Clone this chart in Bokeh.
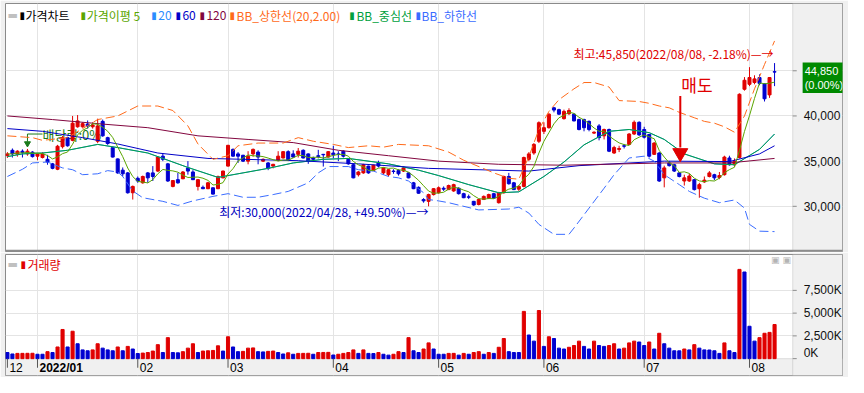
import pandas as pd
from bokeh.plotting import figure
from bokeh.models import ColumnDataSource, FixedTicker, Range1d, Label, BoxAnnotation
from bokeh.layouts import column
from bokeh.embed import file_html
from bokeh.resources import INLINE

# ---------------- data ----------------
month_idx = [0, 6, 26, 44, 65, 86, 107, 127, 148]
month_lbl = ["12", "2022/01", "02", "03", "04", "05", "06", "07", "08"]

price_ticks = [30000, 35000, 40000, 45000]
price_tick_lbl = ["30,000", "35,000", "40,000", ""]
vol_ticks = [0, 2500, 5000, 7500]
vol_tick_lbl = ["0K", "2,500K", "5,000K", "7,500K"]

opens = [35600, 36200, 35750, 36100, 35800, 36000, 35550, 35400, 35200, 34700, 34100, 36600, 37600, 37300, 38800, 38800, 39100, 38800, 37200, 39400,
         37600, 36500, 35250, 34000, 33700, 31500, 33100, 32600, 33700, 33700, 33900, 35550, 34700, 32200, 32950, 33050, 34250, 33800, 32200, 32100,
         31950, 32050, 31950, 33150, 34450, 36300, 35800, 35650, 35000, 35800, 36000, 35000, 34800, 34450, 35100, 35350, 36050, 35800, 35750, 36200,
         35800, 35350, 35600, 35750, 35450, 35900, 35800, 36100, 35200, 34600, 33500, 33700, 34450, 33950, 34800, 33700, 33500, 33900, 33950, 33900,
         33700, 32600, 32100, 30750, 30550, 31300, 31500, 32000, 31850, 31700, 32000, 31400, 31050, 30550, 30200, 30750, 30900, 31400, 30400, 31500,
         33300, 32600, 31900, 32200, 35200, 35900, 37200, 38300, 38700, 40900, 40700, 39700, 40250, 40200, 39600, 39600, 39400, 38100, 38900, 37800,
         38500, 35900, 36300, 36700, 36850, 38000, 39300, 38500, 37950, 35750, 35900, 33150, 34800, 34600, 33700, 32800, 32800, 32950, 31950, 32700,
         33300, 33500, 33200, 33500, 35350, 34600, 35400, 42950, 43500, 43700, 44250, 43550, 42330, 44900]
highs = [36000, 36400, 36200, 36300, 36350, 36100, 35900, 36000, 35700, 34800, 36800, 37800, 37700, 40000, 40100, 39300, 39500, 39300, 39700, 39600,
         37700, 36600, 35300, 34300, 33800, 32300, 33300, 33400, 33800, 34450, 35500, 35900, 34800, 32900, 33700, 33900, 35000, 34000, 33000, 32300,
         32700, 32100, 33400, 33950, 36800, 36400, 36000, 35700, 36100, 36400, 36200, 35300, 34900, 34700, 36100, 36100, 36200, 36200, 36450, 36300,
         35850, 35500, 36250, 35800, 36100, 36700, 36100, 36200, 35300, 34700, 33900, 34700, 34500, 34600, 35050, 34300, 34100, 34100, 34100, 34400,
         33750, 32700, 32200, 30900, 31400, 32000, 32200, 32200, 32400, 32500, 32100, 31500, 31300, 30600, 30800, 31200, 31400, 31500, 31600, 33400,
         33700, 32700, 32300, 35500, 36000, 37000, 39400, 39300, 40300, 41000, 40800, 40700, 40850, 40300, 39700, 39700, 39500, 38300, 39100, 38600,
         38600, 36700, 36700, 36900, 38100, 39500, 39400, 38800, 38000, 37100, 36000, 34500, 35000, 34700, 33800, 33500, 33600, 33000, 32600, 33300,
         33900, 33600, 33800, 35600, 35600, 35300, 42500, 44300, 45400, 44500, 44600, 43600, 44300, 45850]
lows = [35350, 35400, 35500, 35400, 35600, 35400, 35100, 35300, 34600, 34100, 34000, 36400, 36600, 37200, 38700, 38700, 38600, 38600, 37000, 37700,
        36800, 35400, 33600, 33300, 31400, 30750, 32600, 32500, 32600, 32800, 33800, 35000, 32700, 32100, 32500, 33000, 33500, 32900, 31750, 31900,
        31900, 31300, 31900, 33100, 34400, 35500, 34800, 34900, 34650, 35500, 34650, 34900, 34000, 34200, 35000, 35300, 35000, 35400, 35400, 35300,
        34700, 35100, 35300, 34400, 35400, 35300, 35000, 35400, 34600, 33100, 33300, 33600, 33600, 33900, 34300, 33500, 33300, 33600, 33400, 33800,
        33100, 31900, 31400, 30400, 30000, 31200, 31400, 31700, 31800, 31600, 31300, 30900, 30800, 30050, 30100, 30700, 30800, 30850, 30300, 31400,
        32400, 31800, 31700, 32100, 35000, 35700, 37000, 38000, 38600, 40400, 40100, 39600, 40100, 39400, 38400, 38300, 38300, 38000, 37300, 37400,
        36000, 35800, 36000, 36400, 36800, 37900, 37800, 37500, 35400, 35700, 32700, 32100, 34400, 33800, 33200, 32300, 32700, 31750, 30950, 32600,
        33200, 32900, 33000, 33400, 34500, 34400, 35300, 42800, 43300, 43500, 43400, 41600, 42000, 43300]
closes = [35800, 35800, 36100, 35950, 36100, 35500, 35800, 35800, 34900, 34200, 36650, 37600, 36700, 39200, 39450, 39150, 38900, 39000, 38900, 37800,
          36950, 35450, 33700, 33600, 31500, 32200, 32800, 33300, 33150, 33300, 35450, 35200, 32800, 32850, 32600, 33800, 33900, 32950, 32950, 31950,
          32600, 31350, 33300, 33900, 36750, 35550, 35550, 35000, 35550, 36300, 35450, 35200, 34200, 34650, 35550, 36050, 35100, 35450, 36100, 35350,
          35000, 35200, 35500, 35700, 36050, 35700, 35750, 35550, 34700, 33150, 33800, 34600, 33700, 34550, 34450, 34250, 34050, 33850, 33600, 34250,
          33150, 31950, 31450, 30600, 31300, 31950, 32050, 31900, 32300, 32400, 31400, 30950, 31000, 30150, 30750, 31100, 31300, 30900, 31500, 33300,
          32500, 31850, 32200, 35400, 35800, 36850, 39250, 38700, 40200, 40650, 40200, 40500, 40600, 39450, 38500, 38700, 38500, 38200, 37600, 38500,
          36100, 36500, 36400, 36650, 38000, 39300, 37900, 37650, 35550, 37000, 32800, 34250, 34500, 33900, 33300, 33150, 33350, 31850, 32400, 32900,
          33700, 33150, 33400, 35450, 34600, 35000, 42400, 43950, 44250, 44100, 43600, 41900, 44250, 44850]
volumes_k = [673, 513, 577, 580, 585, 590, 481, 481, 769, 673, 1282, 3205, 1282, 3013, 1635, 962, 865, 962, 1635, 1154,
             962, 865, 1282, 865, 1346, 1058, 560, 610, 673, 833, 1538, 673, 2308, 673, 640, 769, 1154, 1635, 673, 833,
             865, 900, 1410, 833, 2404, 1282, 769, 800, 1154, 1180, 769, 740, 800, 833, 673, 513, 641, 481, 577, 580,
             590, 481, 673, 680, 690, 400, 481, 577, 673, 962, 577, 962, 577, 560, 673, 481, 385, 481, 769, 673,
             2308, 865, 673, 1058, 1731, 1058, 481, 481, 577, 580, 385, 577, 481, 673, 769, 481, 673, 577, 1250, 2211,
             769, 673, 673, 5192, 2596, 1923, 5288, 1346, 2404, 2211, 1154, 1058, 1250, 1442, 1923, 1346, 1058, 1923, 1442, 1346,
             1442, 1635, 1058, 1154, 1731, 1923, 1827, 1442, 1827, 1058, 2788, 1635, 1154, 865, 860, 1058, 962, 1538, 1154, 962,
             950, 865, 577, 1731, 865, 673, 9807, 9519, 3558, 1923, 2308, 2788, 2885, 3750]

# indicator lines (day index, price)
ma20_day = [0, 3, 7, 12, 18, 22, 28, 32, 36, 42, 47, 52, 57, 63, 68, 76, 82, 86, 92, 98, 102, 107, 111, 115, 120, 124, 128, 131, 135, 141, 145, 150, 153]
ma20_val = [35500, 35800, 35900, 36200, 36850, 36500, 35900, 35100, 34300, 33200, 33700, 34200, 34800, 35200, 35300, 34700, 34000, 33400, 32400, 31500,
            31600, 33300, 34900, 36800, 38300, 38500, 38150, 37400, 35800, 34700, 34600, 36300, 38000]
ma60_day = [0, 7, 15, 22, 30, 40, 58, 70, 84, 104, 114, 131, 144, 150, 153]
ma60_val = [38600, 38300, 37600, 36900, 35900, 35300, 35050, 34700, 34200, 33900, 34500, 35000, 34950, 35800, 36700]
ma120_day = [0, 9, 19, 28, 38, 48, 57, 66, 76, 86, 98, 111, 131, 144, 153]
ma120_val = [40000, 39600, 39100, 38700, 37800, 37400, 37050, 36200, 35600, 35000, 34650, 34550, 34800, 34800, 35300]
bbu_day = [0, 5, 7, 12, 18, 22, 26, 30, 33, 36, 38, 41, 44, 46, 50, 55, 58, 61, 65, 68, 72, 75, 78, 84, 88, 91, 97, 100, 102, 104,
           106, 108, 110, 113, 115, 117, 120, 122, 126, 128, 130, 132, 134, 137, 139, 141, 143, 145, 147, 149, 151, 153]
bbu_val = [37800, 37600, 37300, 37600, 39600, 40000, 41100, 41100, 40600, 38900, 36900, 35200, 35600, 36700, 37000, 37000, 37600, 37200, 36850, 36500,
           36700, 36550, 36850, 36700, 36000, 35100, 33700, 33100, 33000, 35500, 38500, 40500, 41800, 43000, 43700, 43700, 43200, 41700, 41600, 41400,
           41100, 40900, 40400, 39800, 39400, 39200, 38800, 38200, 40000, 43000, 45700, 48300]
bbl_day = [0, 3, 5, 8, 11, 13, 15, 18, 20, 22, 23, 25, 27, 31, 34, 37, 41, 44, 47, 50, 53, 56, 60, 62, 64, 68, 70, 73, 76, 78,
           80, 83, 84, 86, 88, 94, 100, 102, 104, 106, 109, 112, 113, 116, 119, 121, 124, 127, 129, 131, 134, 136, 139, 142, 145, 147,
           148, 150, 153]
bbl_val = [33300, 34100, 34800, 34900, 34250, 34050, 33500, 33600, 33950, 33800, 33300, 31700, 30950, 30550, 30100, 30600, 31100, 31400, 31000, 31000,
           31300, 31650, 32600, 33700, 34400, 34400, 34050, 33900, 33300, 33150, 32800, 31500, 30750, 30600, 30400, 29600, 29700, 29900, 29250, 28000,
           26900, 26900, 27600, 29800, 32000, 33500, 35350, 35550, 35000, 33500, 32400, 31650, 30900, 30400, 30700, 29800, 28000, 27250, 27200]

# ---------------- styling constants ----------------
RED = "#e00000"
BLUE = "#0000d0"
C_MA5 = "#5aa500"
C_MA20 = "#2b8cff"
C_MA60 = "#0000c8"
C_MA120 = "#82063f"
C_BBU = "#ff6a1a"
C_BBM = "#00a040"
C_BBL = "#3a6cff"
GRID = "#e4e4e4"
PANEL = "#f0f0f0"
EDGE = "#9a9a9a"
SEP = "#8c8c8c"
KR = "Noto Sans CJK KR"
NUM = "Liberation Sans"
BAND_DASH = "9 4"

X_PLOT_END = 156.62   # right edge of the chart area (index units)
X_RANGE = (-0.38, 166.55)
X_AXLBL = 158.8
X_TICK_LEN = 0.8
PRICE_RANGE = (25000, 52444)
VOL_TOP = 11442
VOL_BOTTOM = -1852

n = len(closes)
idx = list(range(n))
cndl_col = [RED if c >= o else BLUE for o, c in zip(opens, closes)]
vol_col = []
for k, v in enumerate(volumes_k):
    if k == 0:
        vol_col.append(BLUE)
    elif v > volumes_k[k - 1]:
        vol_col.append(RED)
    elif v < volumes_k[k - 1]:
        vol_col.append(BLUE)
    else:
        vol_col.append(vol_col[-1])
ma5 = pd.Series(closes, dtype=float).rolling(5, min_periods=1).mean().tolist()

src = ColumnDataSource(dict(i=idx, o=opens, h=highs, l=lows, c=closes,
                            top=[max(a, b) for a, b in zip(opens, closes)],
                            bot=[min(a, b) for a, b in zip(opens, closes)],
                            col=cndl_col, v=volumes_k, vcol=vol_col, ma5=ma5))

xr = Range1d(*X_RANGE)


def lab(fig, x, y, text, color, size="12px", font=KR, align="left", style="normal", level="annotation", **kw):
    fig.add_layout(Label(x=x, y=y, text=text, text_color=color, text_font_size=size, text_font=font,
                         text_align=align, text_baseline="middle", text_font_style=style, level=level, **kw))


def base_fig(height, yr, top, bottom):
    f = figure(width=848, height=height, x_range=xr, y_range=Range1d(*yr),
               output_backend="svg", toolbar_location=None, tools="",
               x_axis_location=None, y_axis_location=None,
               min_border_left=5, min_border_right=6, min_border_top=top, min_border_bottom=bottom,
               background_fill_color="white", border_fill_color=PANEL,
               outline_line_color="#8a8a8a", outline_line_width=1)
    f.xgrid.ticker = FixedTicker(ticks=month_idx[1:])
    f.xgrid.grid_line_color = GRID
    f.ygrid.grid_line_color = GRID
    return f


# ---------------- price panel ----------------
p = base_fig(252, PRICE_RANGE, 3, 1)
p.ygrid.ticker = FixedTicker(ticks=price_ticks)

# right-hand scale area
p.add_layout(BoxAnnotation(left=X_PLOT_END, fill_color=PANEL, fill_alpha=1.0,
                           line_color=EDGE, line_width=1, level="underlay"))

# dividend marker (under the candles)
lab(p, 7.0, 37950, "배당락:0%", "#1a7a1a", size="13px", level="underlay")
p.segment(x0=[4.0], y0=[38000], x1=[7.0], y1=[38000], line_color="#1a7a1a", line_width=1)
p.segment(x0=[4.0], y0=[38000], x1=[4.0], y1=[37150], line_color="#1a7a1a", line_width=1)
p.scatter(x=[4.0], y=[36950], marker="inverted_triangle", size=6, color="#1a7a1a")

# candles
p.segment(x0="i", y0="l", x1="i", y1="h", source=src, line_color="col", line_width=1)
p.vbar(x="i", width=0.6, top="top", bottom="bot", source=src, fill_color="col", line_color="col", line_width=1)

# indicator lines
p.line(ma20_day, ma20_val, line_color=C_MA20, line_width=1)
p.line(ma20_day, ma20_val, line_color=C_BBM, line_width=1)
p.line(ma60_day, ma60_val, line_color=C_MA60, line_width=1)
p.line(ma120_day, ma120_val, line_color=C_MA120, line_width=1)
p.line(bbu_day, bbu_val, line_color=C_BBU, line_width=1, line_dash=BAND_DASH)
p.line(bbl_day, bbl_val, line_color=C_BBL, line_width=1, line_dash=BAND_DASH)
p.line(x="i", y="ma5", source=src, line_color=C_MA5, line_width=1)

# scale ticks + labels
p.segment(x0=[X_PLOT_END] * len(price_ticks), x1=[X_PLOT_END + X_TICK_LEN] * len(price_ticks),
          y0=price_ticks, y1=price_ticks, line_color="#8c8c8c", line_width=1)
for t, s in zip(price_ticks, price_tick_lbl):
    if s:
        lab(p, X_AXLBL, t, s, "#111111", size="12px", font=NUM)

# sell arrow
p.segment(x0=[134.2], y0=[42200], x1=[134.2], y1=[36500], line_color=RED, line_width=2)
p.scatter(x=[134.2], y=[35900], marker="inverted_triangle", size=15, color=RED)
lab(p, 134.4, 43450, "매도", RED, size="17px")

# high / low notes
lab(p, 152.8, 46900, "최고:45,850(2022/08/08, -2.18%)—→", RED, size="12px", align="right")
lab(p, 84.0, 29450, "최저:30,000(2022/04/28, +49.50%)—→", "#0000c0", size="12px", align="right")

# current price box
lab(p, 158.6, 44220, "44,850\n(0.00%)", "white", size="11px", font=NUM,
    background_fill_color="#008a00", padding=2)

# legend row
TY = 51100
lab(p, 0.0, TY, "▬", "#c0c0c0", size="11px", font="DejaVu Sans")
items = [(2.4, 3.6, "가격차트", "#000000"),
         (14.6, 15.8, "가격이평  5", C_MA5),
         (28.7, 30.1, "20", C_MA20),
         (33.5, 34.9, "60", C_MA60),
         (38.3, 39.7, "120", C_MA120),
         (44.3, 45.7, "BB_상한선(20,2.00)", C_BBU),
         (68.2, 69.6, "BB_중심선", C_BBM),
         (81.4, 82.6, "BB_하한선", C_BBL)]
for bx, tx, t, c in items:
    lab(p, bx, TY, "▮", c, size="10px", font="DejaVu Sans")
    lab(p, tx, TY, t, c, size="12px")

# panel separator (bottom edge of the price panel)
p.add_layout(BoxAnnotation(top=PRICE_RANGE[0] + 180, fill_color=SEP, fill_alpha=1.0,
                           line_color=None, level="overlay"))

# ---------------- volume panel ----------------
pv = base_fig(125, (VOL_BOTTOM, VOL_TOP), 2, 2)
pv.ygrid.ticker = FixedTicker(ticks=vol_ticks[1:])
pv.add_layout(BoxAnnotation(top=0, fill_color=PANEL, fill_alpha=1.0,
                            line_color=EDGE, line_width=1, level="underlay"))
pv.add_layout(BoxAnnotation(left=X_PLOT_END, fill_color=PANEL, fill_alpha=1.0,
                            line_color=EDGE, line_width=1, level="underlay"))

pv.vbar(x="i", width=0.62, top="v", bottom=0, source=src, fill_color="vcol", line_color="vcol", line_width=1)

pv.segment(x0=[X_PLOT_END] * len(vol_ticks), x1=[X_PLOT_END + X_TICK_LEN] * len(vol_ticks),
           y0=vol_ticks, y1=vol_ticks, line_color="#8c8c8c", line_width=1)
for t, s in zip(vol_ticks, vol_tick_lbl):
    lab(pv, X_AXLBL, t if t > 0 else 650, s, "#111111", size="12px", font=NUM)

# month ticks + labels in the bottom strip
pv.segment(x0=month_idx, x1=month_idx, y0=[0] * len(month_idx), y1=[-1000] * len(month_idx),
           line_color="#555555", line_width=1)
for mi, ml in zip(month_idx, month_lbl):
    lab(pv, mi, -1000, ml, "#000000", size="12px", font=NUM,
        style="bold" if ml == "2022/01" else "normal", x_offset=2)

lab(pv, 0.0, 10350, "▬", "#c0c0c0", size="11px", font="DejaVu Sans")
lab(pv, 2.6, 10350, "▮", RED, size="10px", font="DejaVu Sans")
lab(pv, 4.0, 10350, "거래량", RED, size="12px")
lab(pv, 152.3, 10800, "▣", "#b4b4b4", size="9px", font="DejaVu Sans")
lab(pv, 154.6, 10800, "▣", "#b4b4b4", size="9px", font="DejaVu Sans")

layout = column(p, pv, spacing=0)
open("out.html", "w").write(file_html(layout, INLINE))
